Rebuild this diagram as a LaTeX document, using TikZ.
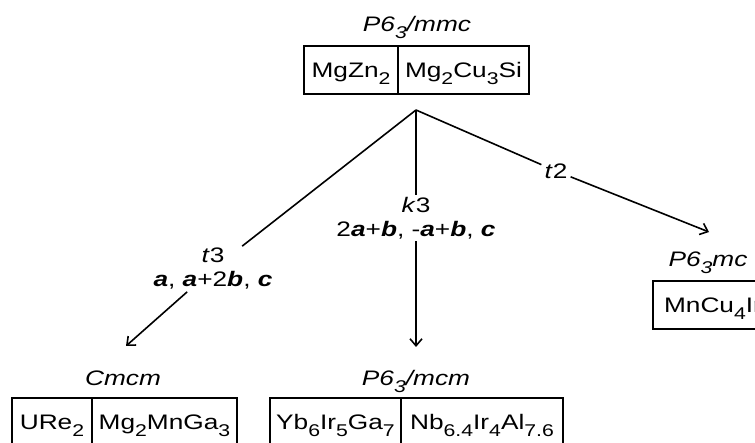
\documentclass[tikz,border=0pt]{standalone}
\usepackage{fontspec}
\setmainfont{Liberation Sans}[FakeStretch=1.25]
\usepackage{tikz}
\usetikzlibrary{positioning, arrows.meta}

% lowered index and bold italic vector
\newcommand{\low}[1]{\raisebox{-7pt}{\fontsize{17}{17}\selectfont #1}}
\newcommand{\vb}[1]{\textbf{\textit{#1}}}

\begin{document}
\begin{tikzpicture}[
    x=1pt, y=-1pt,
    >={Straight Barb[length=7pt, width=12pt]},
    every node/.style={font=\fontsize{21}{24}\selectfont},
    cell/.style={draw=black, line width=1.4pt, inner sep=0pt, outer sep=0pt,
                 text height=31.7pt, text depth=16.3pt, anchor=north west},
    group/.style={anchor=base},
    rel/.style={inner sep=2pt, align=center},
    branch/.style={draw=black, line width=1.6pt}
]

% Frame of the picture
\useasboundingbox (0,0) rectangle (755,443);
\clip (0,0) rectangle (755,443);

% Parent structure
\node[group] (gtop) at (417,32) {\textit{P6\low{3}/mmc}};
\node[cell, minimum width=94pt] (topL) at (304,46) {MgZn\low{2}};
\node[cell, minimum width=131pt, right=0pt of topL] (topR) {Mg\low{2}Cu\low{3}Si};

% Branching point
\coordinate (apex) at (416,110);

% Relation labels
\node[rel] (t3lab) at (213,269) {\textit{t}3\\\vb{a}, \vb{a}+2\vb{b}, \vb{c}};
\node[rel] (k3lab) at (416,218) {\textit{k}3\\2\vb{a}+\vb{b}, -\vb{a}+\vb{b}, \vb{c}};
\node[rel, inner sep=3pt] (t2lab) at (556,171) {\textit{t}2};

% Arrow ends
\coordinate (t3end) at (126,346);
\coordinate (k3end) at (416,347);
\coordinate (t2end) at (709,232);

% Branches
\draw[branch] (apex) -- (t3lab);
\draw[branch, ->] (t3lab) -- (t3end);
\draw[branch] (apex) -- (k3lab);
\draw[branch, ->] (k3lab) -- (k3end);
\draw[branch] (apex) -- (t2lab);
\draw[branch, ->] (t2lab) -- (t2end);

% Subgroup Cmcm
\node[group] (gcmcm) at (123,385) {\textit{Cmcm}};
\node[cell, minimum width=80pt] (cmL) at (12,398) {URe\low{2}};
\node[cell, minimum width=145pt, right=0pt of cmL] (cmR) {Mg\low{2}MnGa\low{3}};

% Subgroup P6_3/mcm
\node[group] (gmcm) at (416,385) {\textit{P6\low{3}/mcm}};
\node[cell, minimum width=131pt] (mcL) at (270,398) {Yb\low{6}Ir\low{5}Ga\low{7}};
\node[cell, minimum width=162pt, right=0pt of mcL] (mcR) {Nb\low{6.4}Ir\low{4}Al\low{7.6}};

% Subgroup P6_3mc
\node[group] (gmc) at (708,267) {\textit{P6\low{3}mc}};
\node[cell, minimum width=120pt] (mcx) at (653,281) {MnCu\low{4}Ir};

\end{tikzpicture}
\end{document}
